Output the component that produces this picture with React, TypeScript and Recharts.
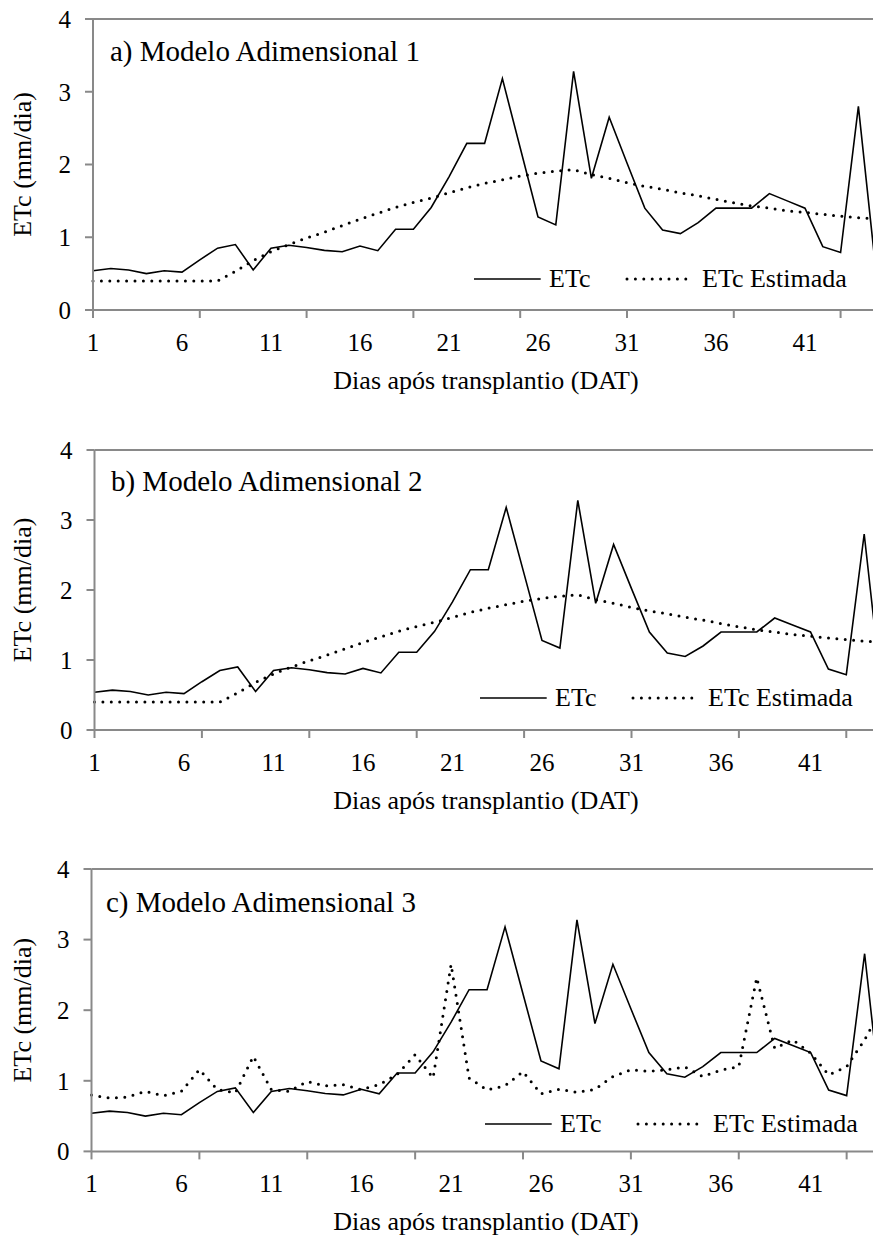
import React from "react";
import { LineChart, Line, XAxis, YAxis, ReferenceLine, Legend } from "recharts";

// dias após transplantio
const dias = [
  1, 2, 3, 4, 5, 6, 7, 8, 9, 10, 11, 12, 13, 14, 15, 16, 17, 18, 19, 20, 21, 22,
  23, 24, 25, 26, 27, 28, 29, 30, 31, 32, 33, 34, 35, 36, 37, 38, 39, 40, 41, 42,
  43, 44, 45,
];

// ETc medida (mm/dia)
const etcMedida = [
  0.54, 0.57, 0.55, 0.5, 0.54, 0.52, 0.69, 0.85, 0.9, 0.55, 0.85, 0.89, 0.86,
  0.82, 0.8, 0.88, 0.815, 1.11, 1.11, 1.41, 1.83, 2.29, 2.29, 3.18, 2.23, 1.28,
  1.17, 3.28, 1.81, 2.65, 2.02, 1.4, 1.1, 1.05, 1.2, 1.4, 1.4, 1.4, 1.6, 1.5,
  1.4, 0.87, 0.79, 2.8, 0.5,
];

// ETc estimada por cada modelo adimensional
const etcModelo1 = [
  0.4, 0.4, 0.4, 0.4, 0.4, 0.4, 0.4, 0.4, 0.53, 0.68, 0.8, 0.9, 0.99, 1.07,
  1.16, 1.25, 1.33, 1.41, 1.48, 1.54, 1.61, 1.68, 1.74, 1.79, 1.84, 1.88, 1.91,
  1.93, 1.86, 1.81, 1.75, 1.7, 1.66, 1.61, 1.57, 1.52, 1.475, 1.43, 1.4, 1.365,
  1.34, 1.315, 1.29, 1.27, 1.25,
];

const etcModelo2 = [
  0.4, 0.4, 0.4, 0.4, 0.4, 0.4, 0.4, 0.4, 0.53, 0.68, 0.8, 0.9, 0.99, 1.07,
  1.16, 1.25, 1.33, 1.41, 1.48, 1.54, 1.61, 1.68, 1.74, 1.79, 1.84, 1.88, 1.91,
  1.93, 1.86, 1.81, 1.75, 1.7, 1.66, 1.61, 1.57, 1.52, 1.475, 1.43, 1.4, 1.365,
  1.34, 1.315, 1.29, 1.27, 1.25,
];

const etcModelo3 = [
  0.8, 0.755, 0.77, 0.85, 0.79, 0.85, 1.16, 0.875, 0.83, 1.345, 0.875, 0.85,
  0.99, 0.93, 0.945, 0.875, 0.945, 1.09, 1.37, 1.04, 2.65, 1.04, 0.87, 0.93,
  1.13, 0.815, 0.88, 0.835, 0.88, 1.06, 1.157, 1.135, 1.157, 1.195, 1.06, 1.15,
  1.2, 2.46, 1.46, 1.58, 1.39, 1.085, 1.2, 1.58, 2.05,
];

const ticksY = [0, 1, 2, 3, 4];
const rotulosX = [1, 6, 11, 16, 21, 26, 31, 36, 41];
const marcasX = [1, 7, 13, 19, 25, 31, 37, 43];
const nomesSeries = ["ETc", "ETc Estimada"];
const titulos = [
  "a) Modelo Adimensional 1",
  "b) Modelo Adimensional 2",
  "c) Modelo Adimensional 3",
];
const tituloX = "Dias após transplantio (DAT)";
const tituloY = "ETc (mm/dia)";

const FONTE = '"Liberation Serif", "Times New Roman", serif';
const CINZA = "#898989";
const MARGEM_TOPO = 20;

type Painel = {
  titulo: string;
  estimada: number[];
  topo: number; // y da borda superior do gráfico na página
  alturaPlot: number;
  eixoX: number; // x do eixo vertical
  passo: number; // px por dia
  tituloDx: number;
  tituloDy: number;
  legendaX: number;
  legendaY: number;
};

const paineis: Painel[] = [
  {
    titulo: titulos[0],
    estimada: etcModelo1,
    topo: 19,
    alturaPlot: 291,
    eixoX: 93,
    passo: 17.8,
    tituloDx: 17,
    tituloDy: 42,
    legendaX: 474,
    legendaY: 279.3,
  },
  {
    titulo: titulos[1],
    estimada: etcModelo2,
    topo: 450,
    alturaPlot: 280,
    eixoX: 94.5,
    passo: 17.9,
    tituloDx: 16.5,
    tituloDy: 40.7,
    legendaX: 480,
    legendaY: 698.3,
  },
  {
    titulo: titulos[2],
    estimada: etcModelo3,
    topo: 869.3,
    alturaPlot: 282.4,
    eixoX: 91.5,
    passo: 17.98,
    tituloDx: 14.5,
    tituloDy: 43.4,
    legendaX: 485,
    legendaY: 1124,
  },
];

const ticksX = Array.from(new Set([...rotulosX, ...marcasX])).sort((a, b) => a - b);

// marca a cada 6 dias, rótulo a cada 5 dias
const DiaTick = (props: any) => {
  const { x, y, payload } = props;
  const v = payload.value;
  return (
    <g>
      {marcasX.includes(v) && (
        <line x1={x} x2={x} y1={y} y2={y + 8} stroke={CINZA} strokeWidth={2} />
      )}
      {rotulosX.includes(v) && (
        <text
          x={x}
          y={y + 41}
          textAnchor="middle"
          fontSize={25}
          fontFamily={FONTE}
          fill="#000"
        >
          {v}
        </text>
      )}
    </g>
  );
};

const LegendaPainel = () => (
  <svg width={400} height={40} style={{ display: "block", overflow: "visible" }}>
    <line x1={0} x2={66.7} y1={20} y2={20} stroke="#000" strokeWidth={1.6} />
    <text x={75} y={28} fontSize={26} fontFamily={FONTE} fill="#000">
      {nomesSeries[0]}
    </text>
    <line
      x1={153}
      x2={220}
      y1={20}
      y2={20}
      stroke="#000"
      strokeWidth={3}
      strokeDasharray="0 8.4"
      strokeLinecap="round"
    />
    <text x={228} y={28} fontSize={26} fontFamily={FONTE} fill="#000">
      {nomesSeries[1]}
    </text>
  </svg>
);

function GraficoETc({ p }: { p: Painel }) {
  const data = dias.map((dia, i) => ({
    dia,
    medida: etcMedida[i],
    estimada: p.estimada[i],
  }));
  const largura = p.eixoX + (dias.length - 1) * p.passo;
  const alturaEixoX = 100;
  const altura = MARGEM_TOPO + p.alturaPlot + alturaEixoX;
  const baseEixo = MARGEM_TOPO + p.alturaPlot;

  return (
    <div
      style={{
        position: "absolute",
        left: 0,
        top: p.topo - MARGEM_TOPO,
        width: largura,
        height: altura,
      }}
    >
      <LineChart
        width={largura}
        height={altura}
        data={data}
        margin={{ top: MARGEM_TOPO, right: 0, bottom: 0, left: 0 }}
        style={{ fontFamily: FONTE }}
      >
        <XAxis
          dataKey="dia"
          type="number"
          domain={[1, 45]}
          ticks={ticksX}
          interval={0}
          height={alturaEixoX}
          tickSize={0}
          tickMargin={0}
          tickLine={false}
          axisLine={{ stroke: CINZA, strokeWidth: 2 }}
          tick={DiaTick}
          label={() => (
            <text
              x={486}
              y={baseEixo + 79}
              textAnchor="middle"
              fontSize={26}
              fontFamily={FONTE}
              fill="#000"
            >
              {tituloX}
            </text>
          )}
        />
        <YAxis
          type="number"
          domain={[0, 4]}
          ticks={ticksY}
          interval={0}
          width={p.eixoX}
          tickSize={8}
          tickMargin={14}
          tickLine={{ stroke: CINZA, strokeWidth: 2 }}
          axisLine={{ stroke: CINZA, strokeWidth: 2 }}
          tick={{ fill: "#000", fontSize: 25, fontFamily: FONTE }}
          label={() => {
            const cy = MARGEM_TOPO + p.alturaPlot / 2;
            return (
              <text
                x={31.5}
                y={cy}
                transform={`rotate(-90, 31.5, ${cy})`}
                textAnchor="middle"
                fontSize={26}
                fontFamily={FONTE}
                fill="#000"
              >
                {tituloY}
              </text>
            );
          }}
        />
        <ReferenceLine
          y={4}
          stroke={CINZA}
          strokeWidth={2}
          label={() => (
            <text
              x={p.eixoX + p.tituloDx}
              y={MARGEM_TOPO + p.tituloDy}
              fontSize={29}
              fontFamily={FONTE}
              fill="#000"
            >
              {p.titulo}
            </text>
          )}
        />
        <Legend
          layout="horizontal"
          verticalAlign="middle"
          align="center"
          wrapperStyle={{
            position: "absolute",
            left: p.legendaX,
            top: p.legendaY - (p.topo - MARGEM_TOPO) - 20,
            width: 400,
            height: 40,
          }}
          content={() => <LegendaPainel />}
        />
        <Line
          type="linear"
          dataKey="medida"
          name={nomesSeries[0]}
          stroke="#000"
          strokeWidth={1.6}
          dot={false}
          activeDot={false}
          isAnimationActive={false}
        />
        <Line
          type="linear"
          dataKey="estimada"
          name={nomesSeries[1]}
          stroke="#000"
          strokeWidth={3}
          strokeDasharray="0 8.4"
          strokeLinecap="round"
          dot={false}
          activeDot={false}
          isAnimationActive={false}
        />
      </LineChart>
    </div>
  );
}

export default function App() {
  return (
    <div
      style={{
        position: "absolute",
        left: 0,
        top: 0,
        width: 873,
        height: 1239,
        overflow: "hidden",
        background: "#fff",
      }}
    >
      {paineis.map((p) => (
        <GraficoETc key={p.titulo} p={p} />
      ))}
    </div>
  );
}
